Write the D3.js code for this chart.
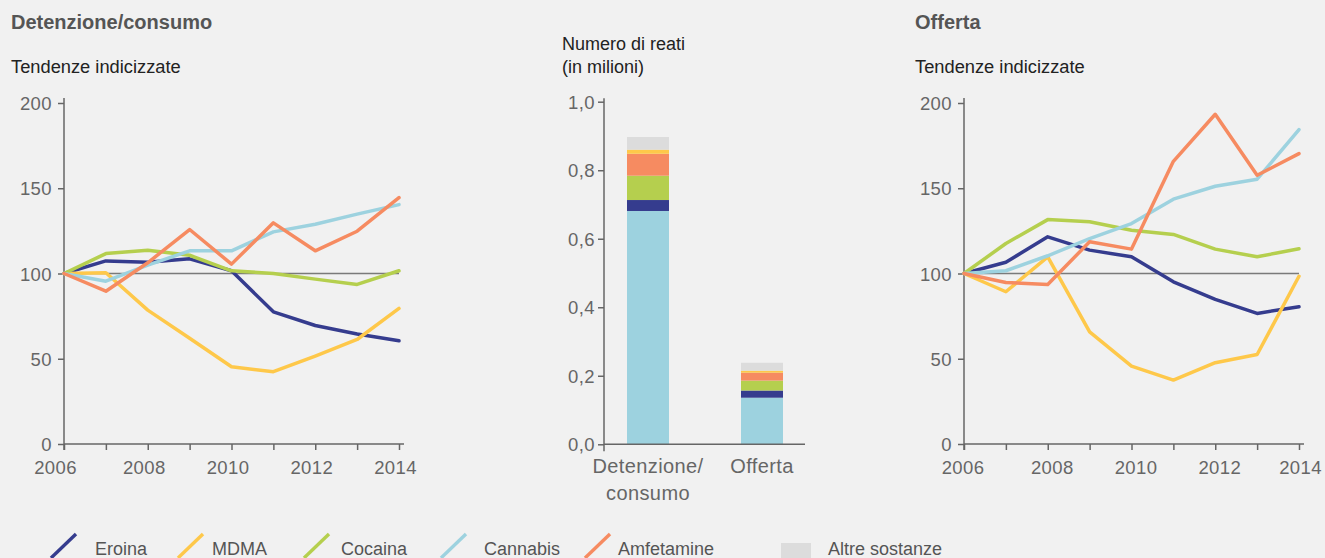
<!DOCTYPE html>
<html lang="it">
<head>
<meta charset="utf-8">
<title>Reati in materia di droga</title>
<script src="https://cdn.jsdelivr.net/npm/d3@7"></script>
<style>
  html, body { margin: 0; padding: 0; background: #f1f1f1; }
  svg { display: block; font-family: "Liberation Sans", Arial, sans-serif; }
  .tick text { fill: #666; font-size: 18.5px; letter-spacing: 0.4px; }
  .tick line { stroke: #666; stroke-width: 1.5; }
</style>
</head>
<body>
<svg id="chart" width="1325" height="558"></svg>
<script>
// Anni e serie indicizzate (2006 = 100)
const years = [2006, 2007, 2008, 2009, 2010, 2011, 2012, 2013, 2014];
const yTicks = [0, 50, 100, 150, 200];

// Detenzione/consumo
const eroinaDet     = [100, 107.4, 106.6, 108.6, 101.6, 77.5, 69.5, 64.5, 60.5];
const mdmaDet       = [100, 100.4, 78.5, 62, 45.3, 42.4, 51.6, 61.3, 79.5];
const cocainaDet    = [100, 111.7, 113.7, 110.7, 101.6, 100, 96.7, 93.6, 101.6];
const cannabisDet   = [100, 95.5, 104.9, 113.3, 113.3, 124.4, 128.9, 134.8, 140.4];
const amfetamineDet = [100, 89.6, 106.3, 125.8, 105.5, 129.7, 113.3, 124.8, 144.5];

// Offerta
const eroinaOff     = [100, 106.6, 121.5, 113.7, 109.8, 95.1, 84.8, 76.6, 80.5];
const mdmaOff       = [100, 89.3, 109.8, 65.8, 45.7, 37.5, 47.7, 52.5, 98.4];
const cocainaOff    = [100, 117.6, 131.6, 130.3, 125.4, 122.9, 114.3, 109.8, 114.5];
const cannabisOff   = [100, 101.6, 110.4, 120.5, 129.3, 143.6, 151.2, 155.3, 184.4];
const amfetamineOff = [100, 94.7, 93.6, 118.6, 114.3, 165.8, 193.4, 157.6, 170.3];

// Numero di reati nel 2014 (milioni), in ordine di impilamento
const barCategories = ["Detenzione/consumo", "Offerta"];
const barLabels = [["Detenzione/", "consumo"], ["Offerta"]];
const cannabisBar   = [0.681, 0.136];
const eroinaBar     = [0.032, 0.021];
const cocainaBar    = [0.071, 0.029];
const amfetamineBar = [0.064, 0.023];
const mdmaBar       = [0.012, 0.006];
const altreBar      = [0.037, 0.023];
const barTicks = [0, 0.2, 0.4, 0.6, 0.8, 1.0];

const substances = ["Eroina", "MDMA", "Cocaina", "Cannabis", "Amfetamine"];
const colors = {
  "Eroina": "#353c8e",
  "MDMA": "#fec84a",
  "Cocaina": "#b5cf4e",
  "Cannabis": "#9dd2df",
  "Amfetamine": "#f68b61",
  "Altre sostanze": "#dcdcdc"
};

const svg = d3.select("#chart");

// ---------- Grafici a linee ----------
function lineChart(opts) {
  const { left, right, titleX, title, series, labelShift } = opts;
  const x = d3.scaleLinear().domain([years[0], years[years.length - 1]]).range([left, right]);
  const y = d3.scaleLinear().domain([0, 200]).range([444, 103]);
  const g = svg.append("g");

  g.append("text").attr("x", titleX).attr("y", 29)
    .attr("font-size", 20).attr("font-weight", "bold").attr("fill", "#555")
    .text(title);
  g.append("text").attr("x", titleX).attr("y", 73)
    .attr("font-size", 18.3).attr("fill", "#222")
    .text("Tendenze indicizzate");

  // Asse Y
  const yAxis = g.append("g").attr("transform", `translate(${left},0)`)
    .call(d3.axisLeft(y).tickValues(yTicks).tickSize(6).tickPadding(6));
  yAxis.select(".domain").remove();
  yAxis.selectAll(".tick text").attr("dy", "0.36em");

  // Asse X
  const xAxis = g.append("g").attr("transform", `translate(0,${y(0)})`)
    .call(d3.axisBottom(x).tickValues(years).tickSize(6).tickPadding(5)
      .tickFormat(d => (d % 2 === 0 ? String(d) : "")));
  xAxis.select(".domain").remove();
  xAxis.selectAll(".tick text").attr("dy", "1.02em")
    .attr("dx", d => labelShift(d));

  // Linee degli assi
  g.append("line").attr("x1", left).attr("x2", left)
    .attr("y1", y(0) + 6).attr("y2", y(203))
    .attr("stroke", "#666").attr("stroke-width", 1.5);
  g.append("line").attr("x1", left).attr("x2", x(2014.12))
    .attr("y1", y(0)).attr("y2", y(0))
    .attr("stroke", "#666").attr("stroke-width", 1.5);

  // Linea di riferimento a 100
  g.append("line").attr("x1", left).attr("x2", right)
    .attr("y1", y(100)).attr("y2", y(100))
    .attr("stroke", "#7a7a7a").attr("stroke-width", 1.4);

  const line = d3.line().x((d, i) => x(years[i])).y(d => y(d));
  substances.forEach(name => {
    g.append("path").datum(series[name])
      .attr("d", line)
      .attr("fill", "none")
      .attr("stroke", colors[name])
      .attr("stroke-width", 3.5)
      .attr("stroke-linejoin", "round")
      .attr("stroke-linecap", "round");
  });
}

// Ordine di disegno: le ultime serie stanno sopra
lineChart({
  left: 64, right: 399, titleX: 11, title: "Detenzione/consumo",
  series: { "Eroina": eroinaDet, "MDMA": mdmaDet, "Cocaina": cocainaDet,
            "Cannabis": cannabisDet, "Amfetamine": amfetamineDet },
  labelShift: d => (d === 2006 ? -9 : -4)
});

lineChart({
  left: 964, right: 1299, titleX: 915, title: "Offerta",
  series: { "Eroina": eroinaOff, "MDMA": mdmaOff, "Cocaina": cocainaOff,
            "Cannabis": cannabisOff, "Amfetamine": amfetamineOff },
  labelShift: d => (d === 2006 ? -1.5 : d === 2014 ? 1 : 4)
});

// ---------- Barre impilate ----------
(function barChart() {
  const axisX = 604, axisEnd = 805, barWidth = 42;
  const y = d3.scaleLinear().domain([0, 1]).range([444.3, 101.7]);
  const x = d3.scalePoint().domain(barCategories).range([648, 762]);
  const g = svg.append("g");

  g.append("text").attr("x", 562).attr("y", 49.5)
    .attr("font-size", 18).attr("fill", "#222").text("Numero di reati");
  g.append("text").attr("x", 562).attr("y", 73)
    .attr("font-size", 18).attr("fill", "#222").text("(in milioni)");

  const keys = ["Cannabis", "Eroina", "Cocaina", "Amfetamine", "MDMA", "Altre sostanze"];
  const values = {
    "Cannabis": cannabisBar, "Eroina": eroinaBar, "Cocaina": cocainaBar,
    "Amfetamine": amfetamineBar, "MDMA": mdmaBar, "Altre sostanze": altreBar
  };
  const rows = barCategories.map((c, i) => {
    const r = { category: c };
    keys.forEach(k => { r[k] = values[k][i]; });
    return r;
  });
  const stacked = d3.stack().keys(keys)(rows);

  g.selectAll("g.layer").data(stacked).join("g")
    .attr("class", "layer")
    .attr("fill", d => colors[d.key])
    .selectAll("rect").data(d => d).join("rect")
    .attr("x", d => x(d.data.category) - barWidth / 2)
    .attr("width", barWidth)
    .attr("y", d => y(d[1]))
    .attr("height", d => y(d[0]) - y(d[1]));

  const yAxis = g.append("g").attr("transform", `translate(${axisX},0)`)
    .call(d3.axisLeft(y).tickValues(barTicks).tickSize(6).tickPadding(3)
      .tickFormat(d => d3.format(".1f")(d).replace(".", ",")));
  yAxis.select(".domain").remove();
  yAxis.selectAll(".tick text").attr("dy", "0.36em");

  g.append("line").attr("x1", axisX).attr("x2", axisX)
    .attr("y1", y(0) + 7).attr("y2", y(1.01))
    .attr("stroke", "#666").attr("stroke-width", 1.5);
  g.append("line").attr("x1", axisX).attr("x2", axisEnd)
    .attr("y1", y(0)).attr("y2", y(0))
    .attr("stroke", "#666").attr("stroke-width", 1.5);

  barCategories.forEach((c, i) => {
    const t = g.append("text").attr("x", x(c)).attr("y", 473)
      .attr("text-anchor", "middle").attr("font-size", 20).attr("fill", "#666")
      .attr("letter-spacing", 0.4);
    barLabels[i].forEach((line, j) => {
      t.append("tspan").attr("x", x(c)).attr("dy", j === 0 ? 0 : 27).text(line);
    });
  });
})();

// ---------- Legenda ----------
(function legend() {
  const items = [
    { name: "Eroina", x0: 51, tx: 95 },
    { name: "MDMA", x0: 178, tx: 212 },
    { name: "Cocaina", x0: 304, tx: 341 },
    { name: "Cannabis", x0: 441, tx: 484 },
    { name: "Amfetamine", x0: 585, tx: 618 }
  ];
  const g = svg.append("g");
  items.forEach(it => {
    g.append("line")
      .attr("x1", it.x0).attr("y1", 558)
      .attr("x2", it.x0 + 25).attr("y2", 534)
      .attr("stroke", colors[it.name]).attr("stroke-width", 3.4);
    g.append("text").attr("x", it.tx).attr("y", 555)
      .attr("font-size", 18).attr("fill", "#555").text(it.name);
  });
  g.append("rect").attr("x", 781).attr("y", 543).attr("width", 30).attr("height", 20)
    .attr("fill", colors["Altre sostanze"]);
  g.append("text").attr("x", 828).attr("y", 555)
    .attr("font-size", 18).attr("fill", "#555").text("Altre sostanze");
})();
</script>
</body>
</html>
